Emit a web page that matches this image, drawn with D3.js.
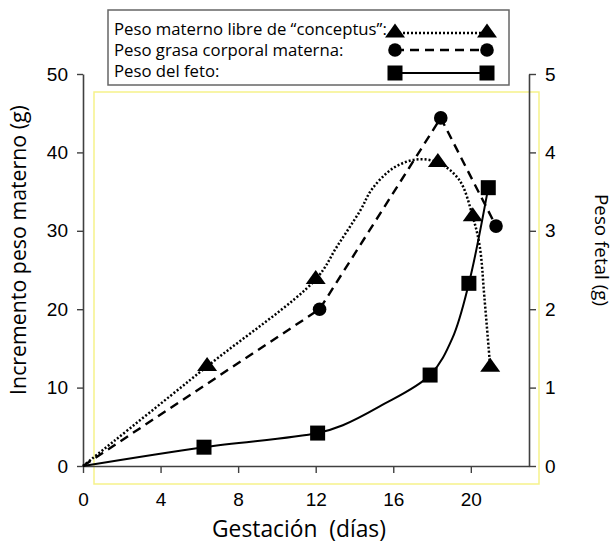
<!DOCTYPE html>
<html>
<head>
<meta charset="utf-8">
<script src="https://cdn.jsdelivr.net/npm/d3@7"></script>
<style>
  html, body { margin: 0; padding: 0; background: #fff; }
  svg { display: block; }
</style>
</head>
<body>
<svg id="chart" width="616" height="545"></svg>
<script>
// Gestation axis and tick values
const xTicks = [0, 4, 8, 12, 16, 20];
const yLeftTicks = [0, 10, 20, 30, 40, 50];
const yRightTicks = [0, 1, 2, 3, 4, 5];

// Maternal weight free of conceptus (g), dotted line with triangles
const libreDias  = [0, 6.4, 12, 13.1, 14.3, 14.9, 16, 17.2, 18.3, 19.4, 20.1, 20.46, 20.7, 21];
const librePeso  = [0, 12.7, 23.8, 28, 32.6, 35.3, 38, 39.1, 38.7, 36.5, 31.8, 28, 21.5, 12.6];
const libreMarca = [0, 1, 1, 0, 0, 0, 0, 0, 1, 0, 1, 0, 0, 1];

// Maternal body fat weight (g), dashed line with circles
const grasaDias  = [0, 12.2, 18.45, 21.3];
const grasaPeso  = [0, 20.0, 44.4, 30.6];
const grasaMarca = [0, 1, 1, 1];

// Fetal weight (g, right axis), solid line with squares
const fetoDias  = [0, 6.24, 12.1, 13.4, 15.3, 17.9, 19.05, 19.9, 20.9];
const fetoPeso  = [0, 0.24, 0.42, 0.52, 0.76, 1.16, 1.63, 2.33, 3.55];
const fetoMarca = [0, 1, 1, 0, 0, 1, 0, 1, 1];

const legendLabels = [
  "Peso materno libre de \u201Cconceptus\u201D:",
  "Peso grasa corporal materna:",
  "Peso del feto:"
];

const titleFont = "'Open Sans', 'DejaVu Sans', sans-serif";
const tickFont = "'Liberation Sans', Arial, sans-serif";

const svg = d3.select("#chart");

const x = d3.scaleLinear().domain([0, 23]).range([83, 529]);
const yL = d3.scaleLinear().domain([0, 50]).range([466, 74]);
const yR = d3.scaleLinear().domain([0, 5]).range([466, 74]);

// pale yellow plot-area frame
svg.append("rect")
  .attr("x", 94).attr("y", 92).attr("width", 445).attr("height", 392)
  .attr("fill", "none").attr("stroke", "#f6f28a").attr("stroke-width", 1.5);

function styleAxis(g) {
  g.selectAll(".domain").attr("stroke", "#404040").attr("stroke-width", 1.6);
  g.selectAll(".tick line").attr("stroke", "#404040").attr("stroke-width", 1.4);
  g.selectAll(".tick text").attr("fill", "#000")
    .attr("font-family", tickFont).attr("font-size", 19);
}

svg.append("g").attr("transform", "translate(83,0)")
  .call(d3.axisLeft(yL).tickValues(yLeftTicks).tickFormat(d3.format("d"))
    .tickSize(6).tickSizeOuter(0).tickPadding(9))
  .call(styleAxis);

svg.append("g").attr("transform", "translate(529,0)")
  .call(d3.axisRight(yR).tickValues(yRightTicks).tickFormat(d3.format("d"))
    .tickSize(7).tickSizeOuter(0).tickPadding(9))
  .call(styleAxis);

svg.append("g").attr("transform", "translate(0,466)")
  .call(d3.axisBottom(x).tickValues(xTicks).tickFormat(d3.format("d"))
    .tickSize(7).tickSizeOuter(0).tickPadding(20))
  .call(styleAxis);

// axis titles, sized to a target run length
function fit(sel, target) {
  const w = sel.node().getComputedTextLength();
  const fs = parseFloat(sel.attr("font-size"));
  sel.attr("font-size", (fs * target / w).toFixed(2));
}

svg.append("text")
  .attr("x", 299).attr("y", 537).attr("text-anchor", "middle")
  .attr("font-family", titleFont).attr("font-size", 20)
  .attr("xml:space", "preserve")
  .text("Gestación  (días)")
  .call(fit, 174);

svg.append("text")
  .attr("transform", "translate(26,250) rotate(-90)")
  .attr("text-anchor", "middle")
  .attr("font-family", titleFont).attr("font-size", 17)
  .text("Incremento peso materno (g)")
  .call(fit, 290);

svg.append("text")
  .attr("transform", "translate(595,250) rotate(90)")
  .attr("text-anchor", "middle")
  .attr("font-family", titleFont).attr("font-size", 17)
  .text("Peso fetal (g)")
  .call(fit, 112);

// marker shapes
const triPath = "M0,-9.5L10,4.5L-10,4.5Z";
function drawMarker(g, kind, cx, cy) {
  if (kind === "tri") {
    g.append("path").attr("d", triPath)
      .attr("transform", `translate(${cx},${cy})`).attr("fill", "#000");
  } else if (kind === "circ") {
    g.append("circle").attr("cx", cx).attr("cy", cy).attr("r", 6.8).attr("fill", "#000");
  } else {
    g.append("rect").attr("x", cx - 7.5).attr("y", cy - 7.5)
      .attr("width", 15).attr("height", 15).attr("fill", "#000");
  }
}

const series = [
  { dias: libreDias, peso: librePeso, marca: libreMarca, y: yL, kind: "tri",
    dash: "2,2", width: 2.5, curve: d3.curveCatmullRom.alpha(0.5) },
  { dias: grasaDias, peso: grasaPeso, marca: grasaMarca, y: yL, kind: "circ",
    dash: "9,6", width: 2.4, curve: d3.curveLinear },
  { dias: fetoDias, peso: fetoPeso, marca: fetoMarca, y: yR, kind: "sq",
    dash: null, width: 2, curve: d3.curveCatmullRom.alpha(0.5) }
];

const plot = svg.append("g");
series.forEach(s => {
  const pts = s.dias.map((d, i) => [d, s.peso[i], s.marca[i]]);
  const line = d3.line().x(p => x(p[0])).y(p => s.y(p[1])).curve(s.curve);
  plot.append("path").datum(pts)
    .attr("d", line).attr("fill", "none").attr("stroke", "#000")
    .attr("stroke-width", s.width)
    .attr("stroke-dasharray", s.dash);
  const mg = plot.append("g");
  pts.filter(p => p[2]).forEach(p => drawMarker(mg, s.kind, x(p[0]), s.y(p[1])));
});

// legend
const lg = svg.append("g");
lg.append("rect").attr("x", 108).attr("y", 10).attr("width", 401).attr("height", 75)
  .attr("fill", "#fff").attr("stroke", "#666").attr("stroke-width", 1.5);

const baselines = [35, 56, 77];
const lineYs = [33, 50, 73];
const texts = legendLabels.map((t, i) =>
  lg.append("text").attr("x", 114).attr("y", baselines[i])
    .attr("font-family", titleFont).attr("font-size", 15).text(t));
fit(texts[0], 273);
const lfs = texts[0].attr("font-size");
texts.forEach(t => t.attr("font-size", lfs));

series.forEach((s, i) => {
  lg.append("line").attr("x1", 395).attr("x2", 487)
    .attr("y1", lineYs[i]).attr("y2", lineYs[i])
    .attr("stroke", "#000").attr("stroke-width", s.width)
    .attr("stroke-dasharray", s.dash);
  drawMarker(lg, s.kind, 395, lineYs[i]);
  drawMarker(lg, s.kind, 487, lineYs[i]);
});
</script>
</body>
</html>
